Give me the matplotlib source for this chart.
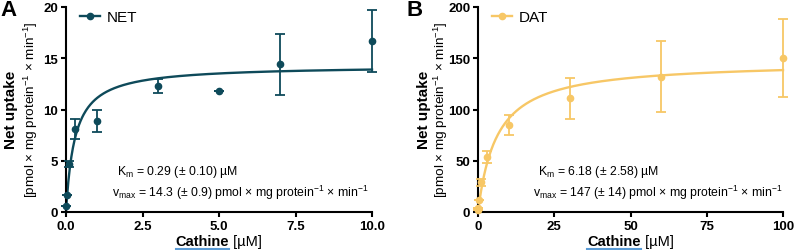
import numpy as np
import matplotlib
matplotlib.use("Agg")
import matplotlib.pyplot as plt
from matplotlib.lines import Line2D

plt.rcParams["font.family"] = ["Liberation Sans", "DejaVu Sans"]
plt.rcParams["mathtext.fontset"] = "custom"
plt.rcParams["mathtext.rm"] = "Liberation Sans"
plt.rcParams["mathtext.bf"] = "Liberation Sans:bold"
plt.rcParams["mathtext.it"] = "Liberation Sans:italic"

#NET data (cathine uM, net uptake, sem)
net_x = [0.01, 0.03, 0.1, 0.3, 1, 3, 5, 7, 10]
net_y = [0.6, 1.7, 4.7, 8.1, 8.9, 12.3, 11.8, 14.4, 16.7]
net_err = [0.0, 0.0, 0.3, 0.95, 1.05, 0.7, 0.0, 3.0, 3.0]
net_km, net_vmax = 0.29, 14.3

#DAT data
dat_x = [0.03, 0.1, 0.3, 1, 3, 10, 30, 60, 100]
dat_y = [2, 4, 12, 29, 54, 85, 111, 132, 150]
dat_err = [0, 0, 0, 3.5, 6, 10, 20, 34.5, 38]
dat_km, dat_vmax = 6.18, 147

NET_COL = "#0e4a5a"
DAT_COL = "#f7c766"

fig = plt.figure(figsize=(7.96, 2.51), dpi=100)
axA = fig.add_axes([66/796, 38/251, 306/796, 205/251])
axB = fig.add_axes([478/796, 38/251, 305/796, 205/251])


def panel(ax, x, y, err, km, vmax, col, label, xmax, ymax, xticks, yticks, xfmt,
          km_txt, v_txt, kpos, vpos):
    xs = np.linspace(0, xmax, 400)
    ax.plot(xs, vmax*xs/(km+xs), color=col, lw=1.7, clip_on=False, zorder=2)
    yerr = np.array(err)
    ax.errorbar(x, y, yerr=yerr, fmt="o", color=col, ms=4.5, elinewidth=1.3,
                capsize=3.5, capthick=1.3, clip_on=False, zorder=3)
    ax.set_xlim(0, xmax)
    ax.set_ylim(0, ymax)
    ax.set_xticks(xticks)
    ax.set_xticklabels([xfmt.format(t) for t in xticks])
    ax.set_yticks(yticks)
    for s in ["top", "right"]:
        ax.spines[s].set_visible(False)
    for s in ["left", "bottom"]:
        ax.spines[s].set_linewidth(1.5)
    ax.tick_params(length=3.5, width=1.5, labelsize=9.5, pad=2)
    for t in ax.get_xticklabels() + ax.get_yticklabels():
        t.set_fontweight("bold")
    h = Line2D([], [], color=col, marker="o", ms=4.5, lw=1.7)
    ax.legend([h], [label], loc="upper left", bbox_to_anchor=(0.0, 1.05),
              frameon=False, fontsize=11, handlelength=1.3, handletextpad=0.5)
    ax.text(kpos[0], kpos[1], km_txt, transform=ax.transAxes, fontsize=8.8,
            va="center", ha="left")
    ax.text(vpos[0], vpos[1], v_txt, transform=ax.transAxes, fontsize=8.8,
            va="center", ha="left")


panel(axA, net_x, net_y, net_err, net_km, net_vmax, NET_COL, "NET", 10, 20,
      [0, 2.5, 5, 7.5, 10], [0, 5, 10, 15, 20], "{:.1f}",
      r"K$_\mathrm{m}$ = 0.29 (± 0.10) µM",
      r"v$_\mathrm{max}$ = 14.3 (± 0.9) pmol × mg protein$^{-1}$ × min$^{-1}$",
      (0.167, 0.20), (0.150, 0.098))
panel(axB, dat_x, dat_y, dat_err, dat_km, dat_vmax, DAT_COL, "DAT", 100, 200,
      [0, 25, 50, 75, 100], [0, 50, 100, 150, 200], "{:.0f}",
      r"K$_\mathrm{m}$ = 6.18 (± 2.58) µM",
      r"v$_\mathrm{max}$ = 147 (± 14) pmol × mg protein$^{-1}$ × min$^{-1}$",
      (0.197, 0.20), (0.180, 0.098))

fig.text(0.0, 1.0, "A", fontsize=16, fontweight="bold", va="top", ha="left")
fig.text(407/796, 1.0, "B", fontsize=16, fontweight="bold", va="top", ha="left")

#two-line y labels
ycen = (251-110)/251
for x1, x2 in [(11, 31), (424, 441)]:
    fig.text(x1/796, ycen, "Net uptake", rotation=90, fontsize=11,
             fontweight="bold", ha="center", va="center")
    fig.text(x2/796, ycen, r"[pmol × mg protein$^{-1}$ × min$^{-1}$]",
             rotation=90, fontsize=9.7, ha="center", va="center")

#x labels: bold "Cathine" + regular " [µM]" with blue underline
fig.canvas.draw()
r = fig.canvas.get_renderer()
for ax in [axA, axB]:
    pos = ax.get_position()
    xc = (pos.x0 + pos.x1) / 2
    t1 = fig.text(0, 9/251, "Cathine", fontsize=10.5, fontweight="bold", va="center")
    t2 = fig.text(0, 9/251, " [µM]", fontsize=10.5, va="center")
    w1 = t1.get_window_extent(r).width / fig.bbox.width
    w2 = t2.get_window_extent(r).width / fig.bbox.width
    x0 = xc - (w1 + w2) / 2
    t1.set_x(x0)
    t2.set_x(x0 + w1)
    fig.add_artist(Line2D([x0, x0 + w1], [1.5/251, 1.5/251], color="#5b9bd5",
                          lw=1.5, transform=fig.transFigure))

fig.savefig("out.png", dpi=100)
